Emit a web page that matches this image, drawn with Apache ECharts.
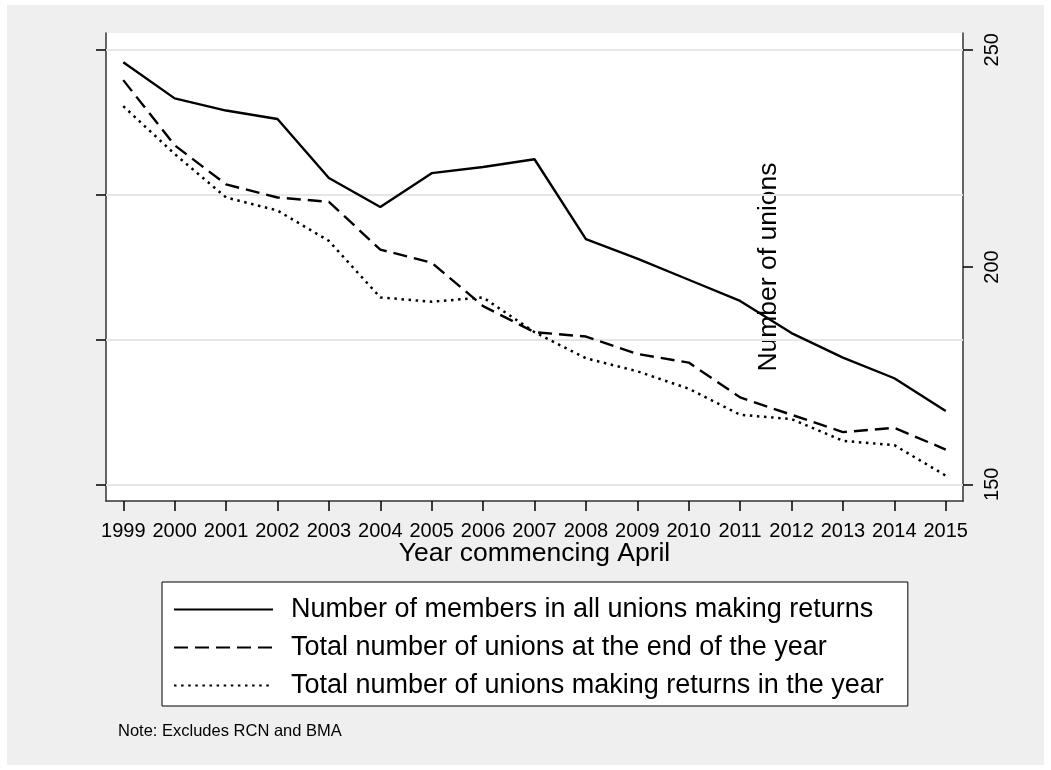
<!DOCTYPE html>
<html>
<head>
<meta charset="utf-8">
<script src="https://cdn.jsdelivr.net/npm/echarts@6/dist/echarts.min.js"></script>
<style>
  html, body { margin: 0; padding: 0; background: #ffffff; }
  #chart { width: 1051px; height: 770px; }
</style>
</head>
<body>
<div id="chart"></div>
<script>
// ---- data ----
const years = [1999, 2000, 2001, 2002, 2003, 2004, 2005, 2006, 2007, 2008, 2009, 2010, 2011, 2012, 2013, 2014, 2015];
const members = [7457, 7332, 7290, 7261, 7057, 6957, 7074, 7095, 7122, 6846, 6779, 6706, 6633, 6522, 6437, 6366, 6253];
const unionsEnd = [243, 228, 219, 216, 215, 204, 201, 191, 185, 184, 180, 178, 170, 166, 162, 163, 158];
const unionsReturns = [237, 226, 216, 213, 206, 193, 192, 193, 185, 179, 176, 172, 166, 165, 160, 159, 152];
const memberTicks = [6000, 6500, 7000, 7500];
const unionTicks = [150, 200, 250];
const seriesNames = [
  'Number of members in all unions making returns',
  'Total number of unions at the end of the year',
  'Total number of unions making returns in the year'
];

const font = '"Liberation Sans", Arial, Helvetica, sans-serif';
const pair = (xs, ys) => xs.map((x, i) => [x, ys[i]]);

const chart = echarts.init(document.getElementById('chart'), null, { renderer: 'canvas' });
chart.setOption({
  animation: false,
  backgroundColor: '#ffffff',
  textStyle: { fontFamily: font, color: '#000' },
  graphic: [
    { type: 'rect', z: -10, shape: { x: 7, y: 5, width: 1037, height: 760 }, style: { fill: '#efefef' } },
    { type: 'text', left: 118, top: 723, style: { text: 'Note: Excludes RCN and BMA', font: '16.5px ' + font, fill: '#000' } }
  ],
  grid: {
    left: 106, right: 88, top: 33, bottom: 269,
    show: true, backgroundColor: '#ffffff', borderWidth: 0
  },
  legend: {
    data: seriesNames,
    orient: 'vertical',
    left: 162, top: 582,
    backgroundColor: '#ffffff',
    borderColor: '#000', borderWidth: 1, borderRadius: 0,
    padding: [14, 24, 7, 11],
    itemGap: 11,
    itemWidth: 99, itemHeight: 14,
    itemStyle: { opacity: 0 },
    textStyle: { fontSize: 27, color: '#000', fontFamily: font, padding: [0, 0, 0, 13] }
  },
  xAxis: {
    type: 'value',
    min: 1998.664, max: 2015.336,
    name: 'Year commencing April',
    nameLocation: 'middle',
    nameGap: 39,
    nameMoveOverlap: false,
    nameTextStyle: { fontSize: 26.5, color: '#000', fontFamily: font },
    axisLine: { lineStyle: { color: '#333', width: 1.5 } },
    axisTick: { show: true, length: 10, customValues: years, lineStyle: { color: '#000', width: 1.5 } },
    axisLabel: { customValues: years, fontSize: 20, color: '#000', margin: 20, formatter: v => String(v) },
    splitLine: { show: false }
  },
  yAxis: [
    {
      type: 'value',
      position: 'left',
      min: 5942.3, max: 7557.7,
      axisLine: { show: true, lineStyle: { color: '#4a4a4a', width: 1.7 } },
      axisTick: { show: true, length: 10, customValues: memberTicks, lineStyle: { color: '#000', width: 1.5 } },
      axisLabel: { show: false },
      splitLine: { show: false }
    },
    {
      type: 'value',
      position: 'right',
      min: 146.155, max: 253.845,
      name: 'Number of unions',
      nameLocation: 'middle',
      nameRotate: 90,
      nameGap: -208,
      nameMoveOverlap: false,
      nameTextStyle: { fontSize: 26.5, color: '#000', fontFamily: font },
      axisLine: { show: true, lineStyle: { color: '#4a4a4a', width: 1.7 } },
      axisTick: { show: true, length: 10, customValues: unionTicks, lineStyle: { color: '#000', width: 1.5 } },
      axisLabel: { customValues: unionTicks, rotate: 90, fontSize: 20, color: '#000', margin: 19 },
      splitLine: { show: false }
    }
  ],
  series: [
    {
      name: 'grid', type: 'line', yAxisIndex: 0, data: [], z: 1, silent: true,
      markLine: {
        silent: true, symbol: 'none', label: { show: false },
        lineStyle: { color: '#e6e6e6', width: 2, type: 'solid' },
        data: memberTicks.map(v => ({ yAxis: v }))
      }
    },
    {
      name: seriesNames[0], type: 'line', yAxisIndex: 0, z: 5,
      data: pair(years, members), symbol: 'none', showSymbol: false,
      lineStyle: { color: '#000', width: 2.4, type: 'solid' }, itemStyle: { color: '#000' }
    },
    {
      name: seriesNames[1], type: 'line', yAxisIndex: 1, z: 5,
      data: pair(years, unionsEnd), symbol: 'none', showSymbol: false,
      lineStyle: { color: '#000', width: 2.4, type: [14, 7] }, itemStyle: { color: '#000' }
    },
    {
      name: seriesNames[2], type: 'line', yAxisIndex: 1, z: 5,
      data: pair(years, unionsReturns), symbol: 'none', showSymbol: false,
      lineStyle: { color: '#000', width: 2.5, type: [2.5, 4.6] }, itemStyle: { color: '#000' }
    }
  ]
});
</script>
</body>
</html>
